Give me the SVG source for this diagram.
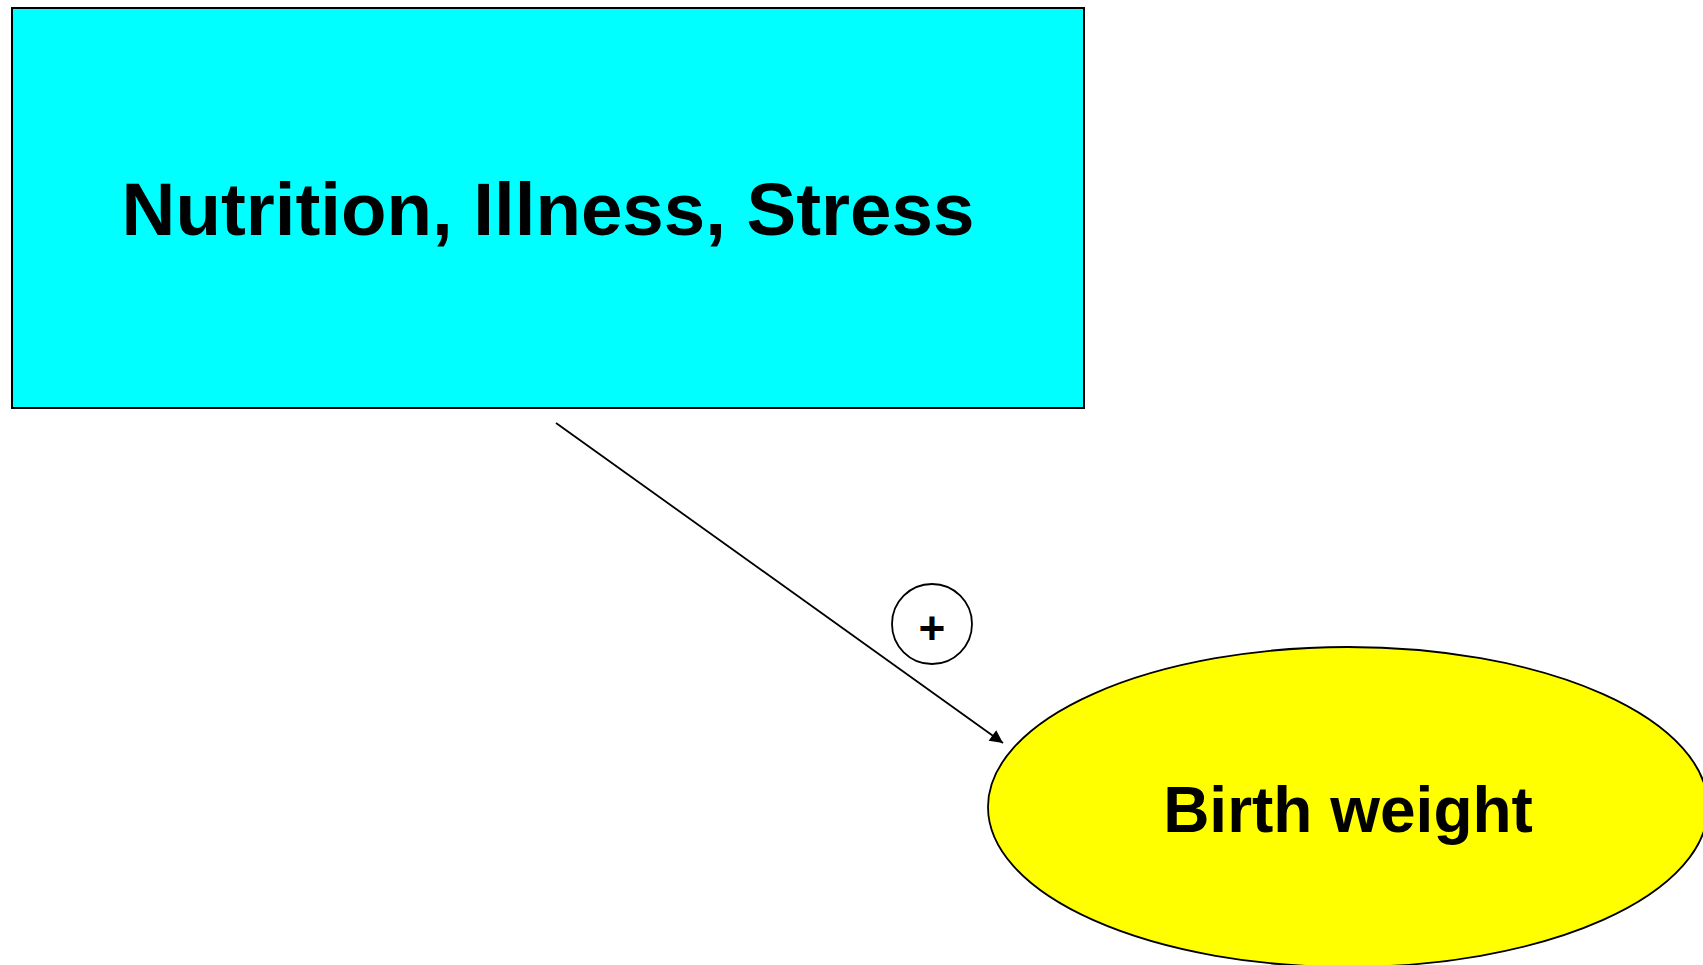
<svg xmlns="http://www.w3.org/2000/svg" width="1703" height="965" viewBox="0 0 1703 965">
<style>
.lbl{font-family:"Liberation Sans",Arial,sans-serif;font-weight:bold;fill:#000;text-anchor:middle}
.edge{stroke:#000;stroke-width:1.8;fill:none}
</style>
<defs>
<marker id="arr" viewBox="0 0 10 10" refX="10" refY="5" markerWidth="18" markerHeight="13" markerUnits="userSpaceOnUse" orient="auto">
<path d="M0,0 L10,5 L0,10 z" fill="#000"/>
</marker>
</defs>
<rect width="1703" height="965" fill="#fff"/>
<g id="node-nutrition">
<rect x="12" y="8" width="1072" height="400" fill="#00ffff" stroke="#000" stroke-width="2"/>
<text class="lbl" x="548" y="235" font-size="74.5">Nutrition, Illness, Stress</text>
</g>
<g id="node-birthweight">
<ellipse cx="1348" cy="807" rx="360" ry="160" fill="#ffff00" stroke="#000" stroke-width="1.8"/>
<text class="lbl" x="1348" y="832" font-size="64">Birth weight</text>
</g>
<g id="connectors">
<line class="edge" x1="556" y1="423" x2="1003" y2="743" marker-end="url(#arr)"/>
</g>
<g id="sign-plus">
<circle cx="932" cy="624" r="40" fill="#fff" stroke="#000" stroke-width="1.8"/>
<text x="932" y="644" font-family="'Liberation Sans',Arial,sans-serif" font-weight="bold" font-size="46" text-anchor="middle" fill="#000">+</text>
</g>
</svg>
